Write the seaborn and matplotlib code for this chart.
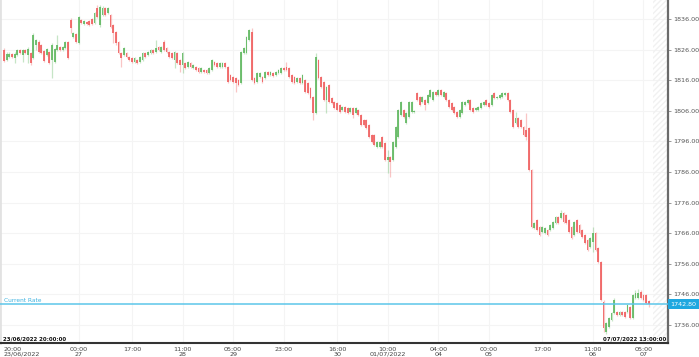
import numpy as np
import pandas as pd
import matplotlib
matplotlib.use("Agg")
import matplotlib.pyplot as plt
import seaborn as sns

# hourly XAU candles, 23/06/2022 20:00 -> 07/07/2022
opens = [1825.9, 1822.6, 1823.6, 1824.6, 1823.3, 1824.2, 1825.9, 1824.2, 1825.9, 1824.2,
         1824.9, 1823.3, 1827.5, 1828.5, 1827.5, 1825.5, 1824.2, 1825.2, 1822.6, 1821.9,
         1825.9, 1826.8, 1825.9, 1826.5, 1828.5, 1835.7, 1830.1, 1831.1, 1828.2, 1835.7,
         1834.4, 1835.0, 1835.3, 1836.0, 1834.7, 1839.6, 1834.0, 1837.3, 1839.6, 1838.0,
         1837.3, 1834.0, 1831.7, 1828.5, 1824.9, 1824.2, 1824.9, 1823.6, 1823.3, 1821.9,
         1822.6, 1821.9, 1822.6, 1824.9, 1824.2, 1824.9, 1825.9, 1825.2, 1826.8, 1825.2,
         1828.5, 1826.5, 1825.2, 1824.9, 1822.6, 1824.9, 1822.6, 1821.0, 1821.6, 1820.3,
         1821.6, 1820.0, 1820.3, 1820.0, 1818.7, 1819.3, 1819.3, 1818.3, 1819.3, 1821.9,
         1821.6, 1820.3, 1820.3, 1821.6, 1820.3, 1817.7, 1817.0, 1816.7, 1816.1, 1815.1,
         1824.9, 1824.9, 1829.1, 1831.7, 1816.7, 1815.4, 1817.0, 1817.0, 1816.7, 1818.7,
         1817.7, 1818.3, 1817.7, 1818.3, 1818.3, 1820.0, 1820.3, 1820.0, 1817.7, 1817.0,
         1815.4, 1816.7, 1815.1, 1816.1, 1815.1, 1813.4, 1810.5, 1805.3, 1822.6, 1817.0,
         1815.4, 1809.5, 1814.4, 1810.2, 1808.9, 1808.5, 1807.9, 1806.3, 1807.2, 1806.9,
         1805.6, 1806.9, 1805.3, 1806.3, 1804.6, 1803.0, 1803.0, 1801.4, 1798.1, 1798.1,
         1794.2, 1794.2, 1797.4, 1795.5, 1789.9, 1790.9, 1789.9, 1794.2, 1797.4, 1804.6,
         1806.3, 1802.0, 1804.0, 1805.6, 1805.6, 1811.8, 1810.5, 1808.9, 1809.5, 1808.5,
         1810.5, 1809.5, 1812.1, 1811.2, 1812.8, 1810.5, 1811.8, 1809.5, 1808.5, 1807.2,
         1805.6, 1804.0, 1805.3, 1807.9, 1808.5, 1809.5, 1806.9, 1806.3, 1806.3, 1806.9,
         1807.9, 1809.5, 1808.5, 1807.9, 1811.8, 1810.2, 1810.2, 1810.5, 1811.2, 1811.8,
         1809.5, 1806.3, 1802.0, 1803.6, 1803.0, 1800.7, 1799.7, 1800.4, 1786.6, 1767.7,
         1770.3, 1768.0, 1766.4, 1766.1, 1767.0, 1767.0, 1767.7, 1769.3, 1771.3, 1771.0,
         1772.6, 1771.9, 1770.3, 1768.0, 1765.4, 1770.3, 1768.7, 1767.0, 1765.4, 1763.8,
         1761.5, 1763.1, 1766.1, 1761.2, 1756.6, 1743.5, 1733.7, 1735.3, 1737.6, 1739.9,
         1740.2, 1739.3, 1740.2, 1740.2, 1740.2, 1741.9, 1738.3, 1744.8, 1744.8, 1746.8,
         1745.8, 1745.8, 1743.8]
closes = [1822.3, 1824.6, 1824.6, 1823.6, 1824.6, 1825.9, 1824.9, 1825.9, 1824.9, 1826.2,
          1821.6, 1830.8, 1829.1, 1825.2, 1824.9, 1822.3, 1826.2, 1821.6, 1827.5, 1826.2,
          1827.5, 1825.9, 1826.8, 1828.5, 1823.3, 1833.1, 1831.4, 1828.5, 1836.6, 1834.7,
          1835.3, 1834.4, 1834.0, 1834.4, 1838.0, 1836.6, 1839.9, 1839.6, 1837.3, 1839.6,
          1833.4, 1831.4, 1828.2, 1824.9, 1823.3, 1826.5, 1823.6, 1822.6, 1821.9, 1823.3,
          1821.6, 1823.6, 1824.9, 1823.6, 1825.2, 1825.9, 1824.9, 1826.5, 1825.9, 1826.8,
          1825.9, 1825.2, 1823.6, 1823.3, 1825.2, 1821.6, 1821.0, 1824.9, 1820.0, 1821.9,
          1820.3, 1821.0, 1819.3, 1818.7, 1820.0, 1818.7, 1818.3, 1820.0, 1822.6, 1821.0,
          1820.3, 1821.6, 1821.6, 1820.3, 1815.4, 1816.1, 1815.4, 1815.1, 1814.4, 1825.2,
          1826.5, 1830.1, 1832.4, 1816.1, 1815.1, 1818.3, 1818.3, 1815.4, 1818.7, 1817.7,
          1818.7, 1817.4, 1818.7, 1819.3, 1820.0, 1819.3, 1819.3, 1817.0, 1815.4, 1815.1,
          1816.7, 1815.1, 1817.7, 1812.1, 1811.8, 1810.2, 1805.3, 1823.6, 1816.7, 1813.8,
          1809.5, 1813.8, 1808.9, 1808.5, 1806.9, 1806.3, 1805.6, 1807.2, 1805.6, 1805.3,
          1806.9, 1804.6, 1806.9, 1804.6, 1801.4, 1801.4, 1800.4, 1797.4, 1795.8, 1794.8,
          1795.8, 1795.8, 1794.2, 1789.9, 1790.9, 1789.3, 1795.8, 1800.7, 1806.3, 1808.9,
          1804.0, 1805.3, 1808.9, 1808.9, 1805.9, 1809.5, 1807.9, 1810.5, 1807.9, 1811.2,
          1812.8, 1812.1, 1811.2, 1812.8, 1811.2, 1812.1, 1809.5, 1807.2, 1806.3, 1805.3,
          1804.0, 1806.3, 1808.9, 1808.9, 1809.5, 1806.3, 1805.6, 1806.9, 1807.2, 1808.5,
          1808.9, 1807.9, 1807.2, 1811.2, 1810.2, 1810.5, 1811.2, 1811.8, 1811.8, 1809.5,
          1805.6, 1800.7, 1803.6, 1800.7, 1800.7, 1798.1, 1797.4, 1786.6, 1768.0, 1769.3,
          1767.0, 1765.4, 1768.0, 1767.7, 1765.4, 1768.7, 1769.7, 1771.3, 1769.3, 1772.6,
          1769.7, 1769.3, 1766.4, 1764.4, 1769.7, 1766.4, 1766.1, 1764.8, 1762.8, 1760.5,
          1764.4, 1766.1, 1760.5, 1756.6, 1744.2, 1735.0, 1736.6, 1738.3, 1739.9, 1744.2,
          1739.3, 1740.2, 1739.3, 1738.6, 1742.5, 1738.3, 1745.8, 1746.5, 1746.5, 1744.8,
          1744.2, 1743.2, 1742.8]
highs = [1826.5, 1825.2, 1825.2, 1824.9, 1825.2, 1826.2, 1826.2, 1826.2, 1826.2, 1826.8,
         1825.2, 1831.4, 1829.5, 1829.1, 1827.8, 1825.9, 1826.5, 1825.5, 1828.2, 1826.5,
         1830.8, 1827.2, 1827.2, 1828.8, 1828.8, 1836.3, 1831.7, 1831.4, 1837.0, 1836.0,
         1835.7, 1835.3, 1835.7, 1836.3, 1838.3, 1840.6, 1840.6, 1840.2, 1839.9, 1839.9,
         1837.6, 1834.4, 1832.1, 1828.8, 1825.2, 1826.8, 1825.2, 1823.9, 1823.6, 1823.6,
         1822.9, 1823.9, 1825.2, 1825.2, 1825.5, 1826.2, 1826.2, 1829.1, 1827.2, 1827.2,
         1829.1, 1826.8, 1825.5, 1825.2, 1825.5, 1825.2, 1822.9, 1825.2, 1821.9, 1822.3,
         1821.9, 1821.3, 1820.6, 1820.3, 1820.3, 1819.7, 1819.7, 1820.3, 1822.9, 1822.3,
         1821.9, 1821.9, 1821.9, 1821.9, 1820.6, 1818.0, 1817.4, 1817.0, 1816.4, 1825.5,
         1826.8, 1830.4, 1832.7, 1833.1, 1817.0, 1818.7, 1818.7, 1817.4, 1819.0, 1819.0,
         1819.0, 1818.7, 1819.0, 1819.7, 1820.3, 1820.3, 1821.9, 1820.3, 1818.0, 1817.4,
         1817.0, 1817.0, 1818.0, 1816.4, 1815.4, 1813.8, 1810.8, 1824.9, 1822.9, 1817.4,
         1815.7, 1814.1, 1814.8, 1810.5, 1809.2, 1808.9, 1808.2, 1807.6, 1807.6, 1807.2,
         1807.2, 1807.2, 1807.2, 1806.6, 1804.9, 1803.3, 1803.3, 1801.7, 1798.4, 1798.4,
         1796.1, 1796.1, 1797.8, 1795.8, 1793.2, 1791.2, 1796.1, 1801.0, 1806.6, 1809.2,
         1806.6, 1805.6, 1809.2, 1809.2, 1806.3, 1812.1, 1810.8, 1810.8, 1809.9, 1811.5,
         1813.1, 1812.5, 1812.5, 1813.1, 1813.1, 1812.5, 1812.1, 1809.9, 1808.9, 1807.6,
         1805.9, 1806.6, 1809.2, 1809.2, 1809.9, 1809.9, 1807.2, 1807.2, 1807.6, 1808.9,
         1809.2, 1809.9, 1808.9, 1811.5, 1812.1, 1810.8, 1811.5, 1812.1, 1812.1, 1812.1,
         1809.9, 1806.6, 1805.6, 1804.0, 1803.3, 1801.0, 1805.3, 1800.7, 1787.0, 1769.7,
         1770.6, 1768.3, 1768.3, 1768.0, 1767.4, 1769.0, 1770.0, 1771.6, 1771.6, 1773.6,
         1772.9, 1772.3, 1770.6, 1768.3, 1770.0, 1770.6, 1769.0, 1767.4, 1765.7, 1764.1,
         1764.8, 1768.0, 1766.4, 1761.5, 1756.9, 1744.2, 1737.0, 1738.6, 1740.2, 1744.8,
         1740.6, 1740.6, 1740.6, 1740.6, 1742.9, 1742.2, 1746.1, 1747.4, 1747.8, 1747.4,
         1746.1, 1746.1, 1744.2]
lows = [1821.9, 1822.3, 1823.3, 1823.3, 1821.6, 1823.9, 1824.6, 1821.9, 1824.6, 1821.6,
        1821.0, 1822.9, 1825.9, 1824.9, 1824.6, 1821.9, 1823.9, 1821.3, 1816.7, 1821.6,
        1825.5, 1825.5, 1825.5, 1826.2, 1822.9, 1831.4, 1829.8, 1828.2, 1827.8, 1834.4,
        1834.0, 1834.0, 1833.7, 1834.0, 1834.4, 1836.3, 1833.4, 1837.0, 1837.0, 1837.6,
        1833.1, 1828.2, 1827.5, 1824.6, 1820.3, 1823.9, 1823.3, 1822.3, 1821.6, 1821.6,
        1821.3, 1821.6, 1822.3, 1823.3, 1823.9, 1824.6, 1824.6, 1824.9, 1825.5, 1824.9,
        1825.5, 1824.9, 1823.3, 1822.9, 1820.0, 1821.3, 1818.7, 1818.3, 1819.7, 1820.0,
        1820.0, 1819.7, 1819.0, 1818.3, 1818.3, 1818.3, 1818.0, 1818.0, 1819.0, 1820.6,
        1820.0, 1820.0, 1820.0, 1820.0, 1815.1, 1815.7, 1815.1, 1812.1, 1814.1, 1814.8,
        1824.6, 1824.6, 1828.8, 1815.7, 1814.8, 1815.1, 1816.7, 1815.1, 1816.4, 1817.4,
        1817.4, 1817.0, 1817.4, 1818.0, 1818.0, 1819.0, 1819.0, 1816.7, 1815.1, 1814.8,
        1815.1, 1814.8, 1814.8, 1811.8, 1811.5, 1809.9, 1803.0, 1804.9, 1816.4, 1813.4,
        1809.2, 1805.3, 1808.5, 1808.2, 1806.6, 1805.9, 1805.3, 1805.9, 1805.3, 1804.9,
        1805.3, 1803.6, 1804.9, 1804.3, 1801.0, 1801.0, 1800.0, 1797.1, 1795.5, 1794.5,
        1793.8, 1793.8, 1793.8, 1789.6, 1785.7, 1784.4, 1789.6, 1793.8, 1797.1, 1804.3,
        1803.6, 1801.7, 1803.6, 1805.3, 1805.3, 1809.2, 1807.6, 1808.5, 1806.3, 1808.2,
        1810.2, 1809.2, 1810.8, 1810.8, 1810.8, 1810.2, 1809.2, 1806.9, 1805.9, 1804.9,
        1803.6, 1803.6, 1804.9, 1807.6, 1808.2, 1805.9, 1805.3, 1805.9, 1805.9, 1806.6,
        1807.6, 1807.6, 1806.9, 1807.6, 1809.9, 1809.9, 1809.9, 1810.2, 1810.8, 1809.2,
        1805.3, 1800.4, 1801.7, 1800.4, 1800.4, 1797.8, 1796.5, 1786.3, 1767.7, 1767.4,
        1766.7, 1765.1, 1766.1, 1765.7, 1765.1, 1766.7, 1767.4, 1769.0, 1769.0, 1770.6,
        1769.3, 1769.0, 1766.1, 1764.1, 1765.1, 1766.1, 1765.7, 1764.4, 1762.5, 1760.2,
        1761.2, 1759.9, 1760.2, 1756.3, 1743.8, 1733.7, 1733.1, 1735.0, 1737.3, 1739.6,
        1738.9, 1738.9, 1738.9, 1738.3, 1739.9, 1738.0, 1738.0, 1744.5, 1744.5, 1744.5,
        1743.8, 1742.9, 1741.9]

current_rate = 1742.80
price_ticks = [1736, 1746, 1756, 1766, 1776, 1786, 1796, 1806, 1816, 1826, 1836]
tick_bars = [0, 28, 48, 67, 86, 105, 125, 144, 163, 182, 202, 221, 240]
tick_labels = ["20:00\n23/06/2022", "00:00\n27", "17:00", "11:00\n28", "05:00\n29",
               "23:00", "16:00\n30", "10:00\n01/07/2022", "04:00\n04", "00:00\n05",
               "17:00", "11:00\n06", "05:00\n07"]
start_label = "23/06/2022 20:00:00"
end_label = "07/07/2022 13:00:00"

df = pd.DataFrame({"open": opens, "high": highs, "low": lows, "close": closes})
df["bar"] = np.arange(len(df))
df["up"] = df["close"] >= df["open"]

sns.set_theme(style="white")
plt.rcParams["font.family"] = ["DejaVu Sans"]

fig = plt.figure(figsize=(6.99, 3.57), dpi=100)
ax = fig.add_axes([0.0, 14 / 357, 668 / 699, 343 / 357])

red = "#ef5b5b"
green = "#5cb65c"
colors = np.where(df["up"], green, red)

# wicks then bodies
ax.vlines(df["bar"], df["low"], df["high"], colors=colors, linewidth=0.9, alpha=0.35, zorder=2)
body_low = np.minimum(df["open"], df["close"])
body_h = np.maximum((df["close"] - df["open"]).abs(), 0.35)
ax.bar(df["bar"], body_h, bottom=body_low, width=0.68, color=colors, linewidth=0, alpha=0.85, zorder=3)

ax.set_xlim(-1.5, 249.2)
ax.set_ylim(1730.1, 1842.2)

# hatched empty zone on the right
ax.axvspan(243.4, 249.2, facecolor="none", hatch="//////", edgecolor="#f1f1f1", linewidth=0, zorder=1)

# grid
for b in tick_bars[1:]:
    ax.axvline(b, color="#f4f4f4", linewidth=0.8, zorder=0)
for p in price_ticks:
    ax.axhline(p, color="#f4f4f4", linewidth=0.8, zorder=0)

# current rate
ax.axhline(current_rate, color="#5cc6ea", linewidth=1.1, zorder=4)
ax.text(0.006, current_rate + 0.5, "Current Rate", color="#3fb3e0", fontsize=4.2,
        va="bottom", ha="left", transform=ax.get_yaxis_transform(), zorder=5)
ax.text(1.004, current_rate, f"{current_rate:.2f}", color="white", fontsize=4.6,
        va="center", ha="left", transform=ax.get_yaxis_transform(), zorder=6, clip_on=False,
        bbox=dict(boxstyle="square,pad=0.35", facecolor="#1fa8e0", edgecolor="none"))

# axes styling
ax.spines["top"].set_visible(False)
ax.spines["left"].set_color("#e2e2e2")
ax.spines["left"].set_linewidth(2)
ax.spines["right"].set_color("#6a6a6a")
ax.spines["right"].set_linewidth(1.6)
ax.spines["bottom"].set_color("#333333")
ax.spines["bottom"].set_linewidth(1.5)

ax.yaxis.tick_right()
ax.set_yticks(price_ticks)
ax.set_yticklabels([f"{p:.2f}" for p in price_ticks])
ax.tick_params(axis="y", length=2, width=0.6, color="#888888", pad=2,
               labelsize=4.6, labelcolor="#555555")

ax.set_xticks(tick_bars)
ax.set_xticklabels(tick_labels)
ax.tick_params(axis="x", length=0, pad=3, labelsize=4.6, labelcolor="#444444")
for lab in ax.get_xticklabels():
    lab.set_linespacing(0.95)
first = ax.get_xticklabels()[0]
first.set_horizontalalignment("left")
first.set_x(-1.5)

ax.text(0.004, 1730.6, start_label, fontsize=4.0, color="#111111", ha="left", va="bottom",
        fontweight="bold", transform=ax.get_yaxis_transform())
ax.text(0.997, 1730.6, end_label, fontsize=4.0, color="#111111", ha="right", va="bottom",
        fontweight="bold", transform=ax.get_yaxis_transform())

fig.savefig("out.png", dpi=100)
